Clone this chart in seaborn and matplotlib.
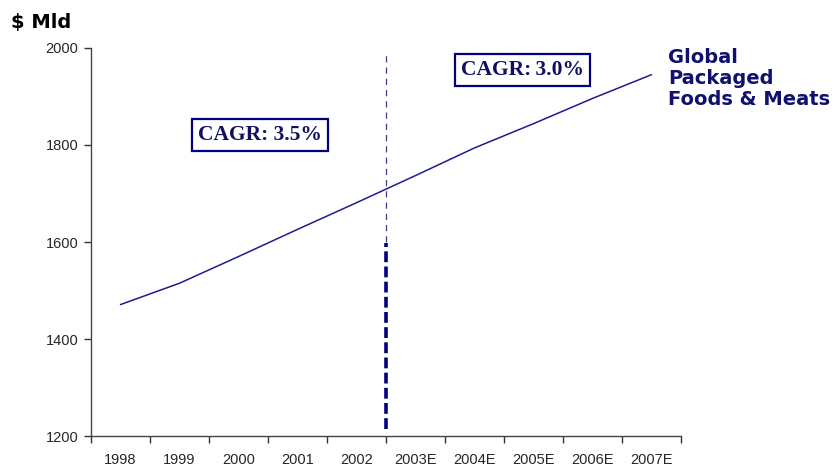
import matplotlib
matplotlib.use("Agg")
import matplotlib.pyplot as plt
import seaborn as sns
import pandas as pd

years = ["1998", "1999", "2000", "2001", "2002", "2003E", "2004E", "2005E", "2006E", "2007E"]
values = [1471, 1515, 1570, 1626, 1681, 1737, 1794, 1844, 1896, 1945]
y_ticks = [1200, 1400, 1600, 1800, 2000]
series_label = "Global\nPackaged\nFoods & Meats"
cagr_hist = "CAGR: 3.5%"
cagr_fcst = "CAGR:\u20093.0%"
unit_label = "$ Mld"
split_year = "2003E"

navy = "#000080"

sns.set_style("white")
plt.rcParams["font.family"] = ["DejaVu Sans"]

df = pd.DataFrame({"year": years, "value": values})

fig = plt.figure(figsize=(8.39, 4.69), dpi=100)
ax = fig.add_axes([91 / 839, 1 - 436 / 469, (681 - 91) / 839, (436 - 48) / 469])

sns.lineplot(data=df, x="year", y="value", ax=ax, color="#1c1c90", linewidth=1.1, sort=False)

n = len(years)
ax.set_xlim(-0.5, n - 0.5)
ax.set_ylim(y_ticks[0], y_ticks[-1])
ax.set_yticks(y_ticks)
ax.set_yticklabels([str(v) for v in y_ticks], fontsize=10.5, family="Liberation Sans")

# category axis: ticks at boundaries, labels at centres
ax.set_xticks([i - 0.5 for i in range(n + 1)])
ax.set_xticklabels([""] * (n + 1))
ax.set_xticks(list(range(n)), minor=True)
ax.set_xticklabels(years, minor=True, fontsize=10.5, family="Liberation Sans")
ax.tick_params(axis="x", which="minor", bottom=True, length=0, pad=12)
ax.tick_params(axis="x", which="major", bottom=True, length=5, width=1, color="#333333",
               direction="out")
ax.tick_params(axis="y", left=True, length=5, width=1, color="#333333", direction="out", pad=4)
ax.set_xlabel("")
ax.set_ylabel("")

for s in ["top", "right"]:
    ax.spines[s].set_visible(False)
for s in ["left", "bottom"]:
    ax.spines[s].set_color("#444444")
    ax.spines[s].set_linewidth(1.0)

# divider between actual and estimate
xsplit = years.index(split_year) - 0.5
ax.plot([xsplit, xsplit], [1600, 1990], color="#3c3c8c", linewidth=0.9,
        linestyle=(0, (5, 4)))
ax.plot([xsplit, xsplit], [1215, 1598], color=navy, linewidth=2.6,
        linestyle=(0, (3, 1.2)), solid_capstyle="butt", dash_capstyle="butt")

box = dict(boxstyle="square,pad=0.28", facecolor="white", edgecolor=navy, linewidth=1.6)
ax.text(2.37, 1821, cagr_hist, ha="center", va="center", fontsize=15.5,
        family=["Liberation Serif", "DejaVu Serif"], fontweight="bold", color="#101060", bbox=box)
ax.text(6.81, 1955, cagr_fcst, ha="center", va="center", fontsize=15.5,
        family=["Liberation Serif", "DejaVu Serif"], fontweight="bold", color="#101060", bbox=box)

ax.text(9.28, 1999, series_label, ha="left", va="top", fontsize=14,
        fontweight="bold", color="#101070", linespacing=1.12, clip_on=False)

fig.text(11 / 839, 1 - 13 / 469, unit_label, ha="left", va="top", fontsize=14,
         fontweight="bold", color="black")

fig.savefig("out.png", dpi=100)
